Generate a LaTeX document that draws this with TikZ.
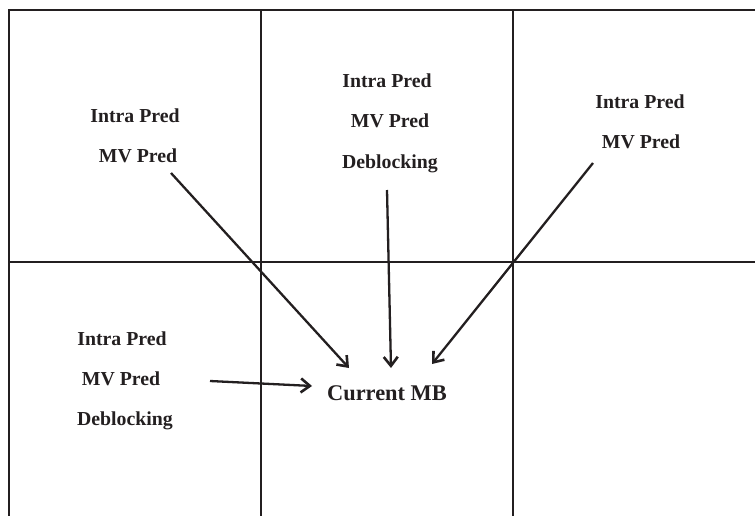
\documentclass[tikz,border=0pt]{standalone}
\usepackage{fontspec}
\setmainfont{Liberation Serif}
\usetikzlibrary{arrows.meta}
\definecolor{ink}{HTML}{231F20}
\tikzset{
  gridline/.style={draw=ink, line width=2.4pt},
  lbl/.style={anchor=base, inner sep=0pt, text=ink, font=\fontsize{19.8}{22}\selectfont\bfseries},
  cur/.style={anchor=base, inner sep=0pt, text=ink, font=\fontsize{22.4}{26}\selectfont\bfseries},
  flow/.style={draw=ink, line width=2.3pt, -{Straight Barb[length=9pt,width=14pt,line width=2.6pt]}},
}
\begin{document}
\begin{tikzpicture}[x=1pt,y=-1pt]
\useasboundingbox (0,0) rectangle (755,516);
% macroblock grid
\draw[gridline] (9,516) -- (9,10) -- (755,10);
\draw[gridline] (9,262) -- (755,262);
\draw[gridline] (261,10) -- (261,516);
\draw[gridline] (513,10) -- (513,516);

% upper-left neighbour
\node[lbl] (ulA) at (135,123) {Intra Pred};
\node[lbl] (ulB) at (138,163) {MV Pred};
% upper neighbour
\node[lbl] (upA) at (387,88) {Intra Pred};
\node[lbl] (upB) at (390,128) {MV Pred};
\node[lbl] (upC) at (390,168) {Deblocking};
% upper-right neighbour
\node[lbl] (urA) at (640,109) {Intra Pred};
\node[lbl] (urB) at (641,149) {MV Pred};
% left neighbour
\node[lbl] (lfA) at (122,345) {Intra Pred};
\node[lbl] (lfB) at (121,385) {MV Pred};
\node[lbl] (lfC) at (125,425) {Deblocking};
% current macroblock
\node[cur] (mb) at (387,400) {Current MB};

% arrow end points
\coordinate (ulS) at (171,173);
\coordinate (ulE) at (349,368);
\coordinate (upS) at (387,190);
\coordinate (upE) at (391,368);
\coordinate (urS) at (593,163);
\coordinate (urE) at (432,364);
\coordinate (lfS) at (210,381);
\coordinate (lfE) at (312,386);

\draw[flow] (ulS) -- (ulE);
\draw[flow] (upS) -- (upE);
\draw[flow] (urS) -- (urE);
\draw[flow] (lfS) -- (lfE);
\end{tikzpicture}
\end{document}
